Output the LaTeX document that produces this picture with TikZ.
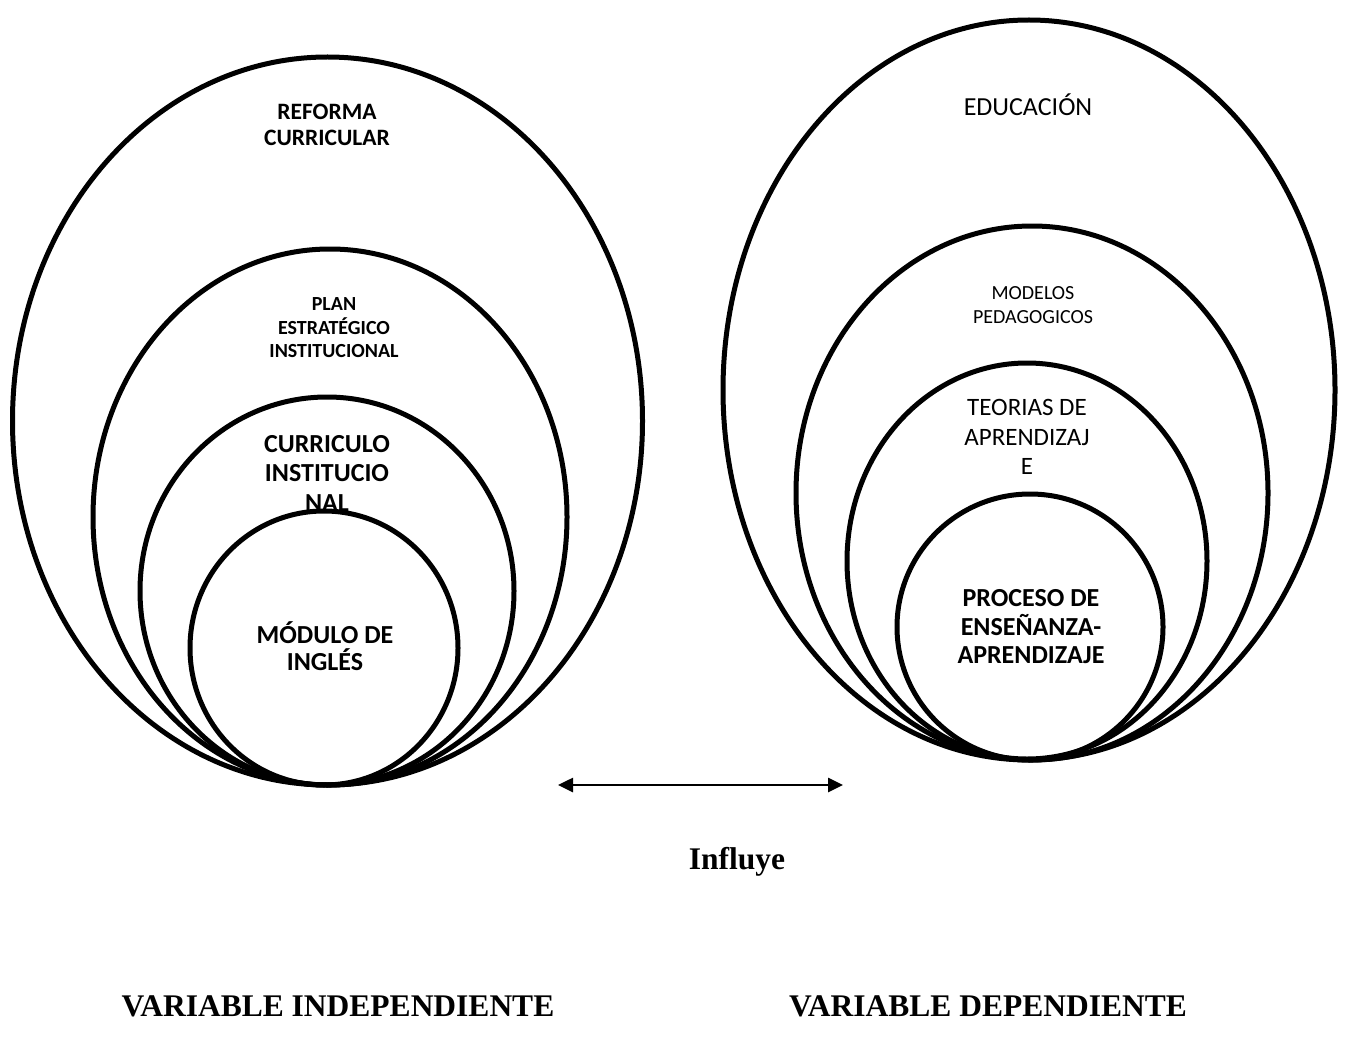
\documentclass[tikz,border=0pt]{standalone}
\usepackage{fontspec}
\setmainfont{Carlito}
\newfontfamily\tnr{Liberation Serif}
\usetikzlibrary{shapes.geometric,arrows.meta}
\tikzset{
  ring/.style={draw=black, line width=5pt, ellipse, inner sep=0pt},
  lbl/.style={align=center, inner sep=0pt},
  conn/.style={line width=2.6pt, {Triangle[length=15pt,width=14pt]}-{Triangle[length=15pt,width=14pt]}},
  foot/.style={inner sep=0pt, font=\tnr\bfseries\fontsize{31.5}{36}\selectfont}
}
\newcommand{\fs}[2]{\fontsize{#1}{#2}\selectfont}
\begin{document}
\begin{tikzpicture}[x=1pt,y=-1pt]
\useasboundingbox[fill=white] (0,0) rectangle (1346,1043);
% left group
\node[ring, minimum width=630pt, minimum height=728pt] (L1) at (327.5,421) {};
\node[ring, minimum width=474pt, minimum height=536pt] (L2) at (330,517) {};
\node[ring, minimum width=374pt, minimum height=388pt] (L3) at (327,591) {};
\node[ring, minimum width=268pt, minimum height=274pt] (L4) at (324,648) {};
% right group
\node[ring, minimum width=612pt, minimum height=740pt] (R1) at (1029,390) {};
\node[ring, minimum width=472pt, minimum height=534pt] (R2) at (1032,493) {};
\node[ring, minimum width=360pt, minimum height=396pt] (R3) at (1027,561) {};
\node[ring, minimum width=266pt, minimum height=266pt] (R4) at (1030,627) {};
% labels left
\node[lbl, font=\bfseries\fs{23.5}{26}] (tL1) at (327,125) {REFORMA\\CURRICULAR};
\node[lbl, font=\bfseries\fs{20}{23.5}] (tL2) at (334,328) {PLAN\\ESTRATÉGICO\\INSTITUCIONAL};
\node[lbl, font=\bfseries\fs{26}{29.5}] (tL3) at (327,473) {CURRICULO\\INSTITUCIO\\NAL};
\node[lbl, font=\bfseries\fs{26}{27}] (tL4) at (325,646) {MÓDULO DE\\INGLÉS};
% labels right
\node[lbl, font=\fs{26}{30}] (tR1) at (1028,105) {EDUCACIÓN};
\node[lbl, font=\fs{20}{24}] (tR2) at (1033,305) {MODELOS\\PEDAGOGICOS};
\node[lbl, font=\fs{25}{29.5}] (tR3) at (1027,437) {TEORIAS DE\\APRENDIZAJ\\E};
\node[lbl, font=\bfseries\fs{26}{28.5}] (tR4) at (1031,627) {PROCESO DE\\ENSEÑANZA-\\APRENDIZAJE};
% connector
\coordinate (aL) at (558,785);
\coordinate (aR) at (843,785);
\draw[conn] (aL) -- (aR);
\node[foot] (infl) at (737,862) {Influye};
\node[foot] (vi) at (338,1006) {VARIABLE INDEPENDIENTE};
\node[foot] (vd) at (988,1006) {VARIABLE DEPENDIENTE};
\end{tikzpicture}
\end{document}
